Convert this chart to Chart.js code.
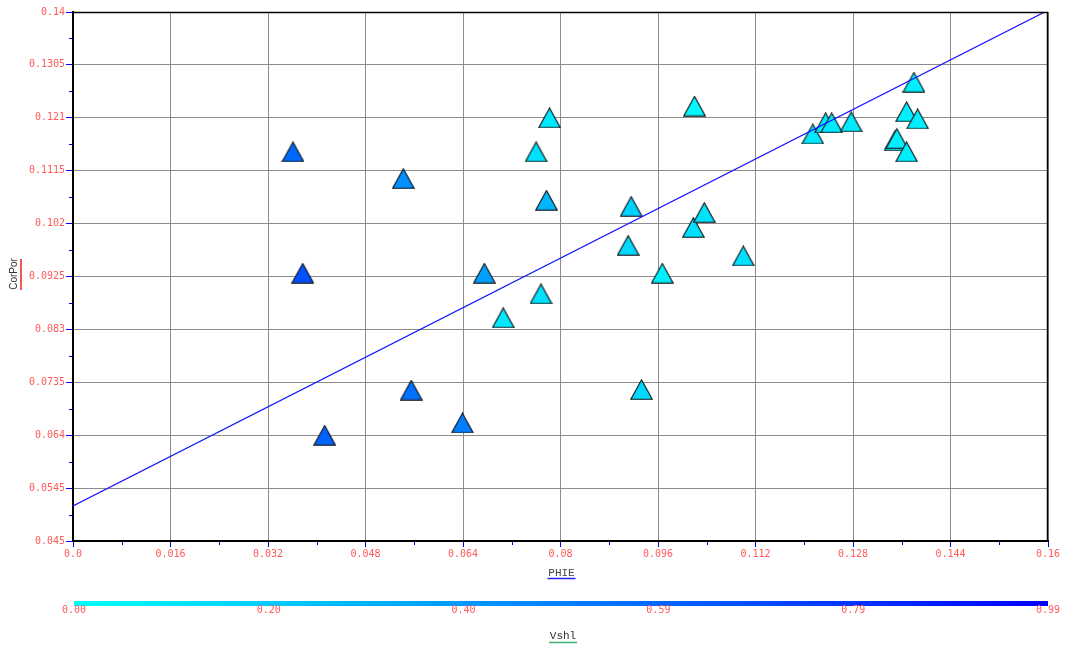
<!DOCTYPE html>
<html>
<head>
<meta charset="utf-8">
<script src="https://cdn.jsdelivr.net/npm/chart.js@4/dist/chart.umd.min.js"></script>
<style>
  html, body { margin: 0; padding: 0; background: #fff; }
  #wrap { width: 1065px; height: 648px; }
</style>
</head>
<body>
<div id="wrap"><canvas id="c" width="1065" height="648"></canvas></div>
<script>
// Crossplot samples: effective porosity vs corrected porosity, coloured by shale volume
const phie = [0.0361, 0.0377, 0.0413, 0.0542, 0.0555, 0.0639, 0.0675, 0.0706, 0.0760, 0.0782,
              0.0777, 0.0768, 0.0916, 0.0911, 0.0933, 0.0967, 0.1020, 0.1018, 0.1036, 0.1100,
              0.1214, 0.1235, 0.1245, 0.1277, 0.1380, 0.1368, 0.1386, 0.1349, 0.1352, 0.1368];
const corPor = [0.1149, 0.0931, 0.0640, 0.1101, 0.0721, 0.0662, 0.0931, 0.0851, 0.1149, 0.1210,
                0.1062, 0.0894, 0.1051, 0.0981, 0.0722, 0.0931, 0.1231, 0.1013, 0.1040, 0.0962,
                0.1181, 0.1201, 0.1201, 0.1203, 0.1274, 0.1221, 0.1208, 0.1169, 0.1173, 0.1149];
const vshl = [0.59, 0.68, 0.61, 0.43, 0.55, 0.50, 0.37, 0.09, 0.12, 0.08,
              0.28, 0.12, 0.18, 0.15, 0.15, 0.06, 0.02, 0.12, 0.12, 0.12,
              0.08, 0.08, 0.08, 0.08, 0.06, 0.06, 0.06, 0.06, 0.06, 0.06];

// Least-squares trend line end points
const fitX = [0.0, 0.16];
const fitY = [0.0513, 0.1403];

// Axis ticks
const xTicks = [0, 0.016, 0.032, 0.048, 0.064, 0.08, 0.096, 0.112, 0.128, 0.144, 0.16];
const xTickLabels = ['0.0', '0.016', '0.032', '0.048', '0.064', '0.08', '0.096', '0.112', '0.128', '0.144', '0.16'];
const yTicks = [0.045, 0.0545, 0.064, 0.0735, 0.083, 0.0925, 0.102, 0.1115, 0.121, 0.1305, 0.14];
const yTickLabels = ['0.045', '0.0545', '0.064', '0.0735', '0.083', '0.0925', '0.102', '0.1115', '0.121', '0.1305', '0.14'];

// Colour scale for Vshl
const vshlMin = 0.0, vshlMax = 0.99;
const colorbarLabels = ['0.00', '0.20', '0.40', '0.59', '0.79', '0.99'];

const LABEL_RED = '#ff5a5a';
const MONO = '"DejaVu Sans Mono", "Liberation Mono", monospace';

function vshlColor(v) {
  const t = Math.max(0, Math.min(1, (v - vshlMin) / (vshlMax - vshlMin)));
  return 'rgb(0,' + Math.round(255 * (1 - t)) + ',255)';
}

// Triangle marker sprite, centred on the data point
function triangleSprite(color) {
  const w = 23, h = 21;
  const cv = document.createElement('canvas');
  cv.width = w; cv.height = h;
  const g = cv.getContext('2d');
  g.beginPath();
  g.moveTo(w / 2, 0.8);
  g.lineTo(w - 0.8, h - 0.8);
  g.lineTo(0.8, h - 0.8);
  g.closePath();
  g.fillStyle = color;
  g.fill();
  g.lineWidth = 1.1;
  g.strokeStyle = '#111';
  g.stroke();
  return cv;
}

const points = phie.map((x, i) => ({ x: x, y: corPor[i] }));
const sprites = vshl.map(v => triangleSprite(vshlColor(v)));
const fitPoints = fitX.map((x, i) => ({ x: x, y: fitY[i] }));

const decorations = {
  id: 'decorations',
  afterDraw(chart) {
    const ctx = chart.ctx;
    const a = chart.chartArea;
    const xs = chart.scales.x, ys = chart.scales.y;
    ctx.save();

    // frame on the top and right
    ctx.strokeStyle = '#000';
    ctx.lineWidth = 1.5;
    ctx.beginPath();
    ctx.moveTo(a.left, a.top + 0.5);
    ctx.lineTo(a.right - 0.5, a.top + 0.5);
    ctx.lineTo(a.right - 0.5, a.bottom);
    ctx.stroke();

    // minor ticks halfway between major ticks
    ctx.strokeStyle = '#0000ff';
    ctx.lineWidth = 1;
    ctx.beginPath();
    for (let i = 0; i < xTicks.length - 1; i++) {
      const px = Math.round(xs.getPixelForValue((xTicks[i] + xTicks[i + 1]) / 2)) + 0.5;
      ctx.moveTo(px, a.bottom + 1);
      ctx.lineTo(px, a.bottom + 4);
    }
    for (let i = 0; i < yTicks.length - 1; i++) {
      const py = Math.round(ys.getPixelForValue((yTicks[i] + yTicks[i + 1]) / 2)) + 0.5;
      ctx.moveTo(a.left - 4, py);
      ctx.lineTo(a.left - 1, py);
    }
    ctx.stroke();

    // x axis title
    ctx.font = '11px "Liberation Mono", monospace';
    ctx.fillStyle = '#444';
    ctx.textAlign = 'center';
    ctx.textBaseline = 'alphabetic';
    const cx = (a.left + a.right) / 2 + 1;
    ctx.fillText('PHIE', cx, 576);
    ctx.strokeStyle = '#2222ee';
    ctx.lineWidth = 1.5;
    ctx.beginPath();
    ctx.moveTo(cx - 14, 578.5);
    ctx.lineTo(cx + 14, 578.5);
    ctx.stroke();

    // y axis title
    ctx.save();
    ctx.translate(17, 274);
    ctx.rotate(-Math.PI / 2);
    ctx.font = '10px "Liberation Sans", sans-serif';
    ctx.fillStyle = '#333';
    ctx.textAlign = 'center';
    ctx.fillText('CorPor', 0, 0);
    ctx.restore();
    ctx.strokeStyle = '#ee2222';
    ctx.lineWidth = 1.5;
    ctx.beginPath();
    ctx.moveTo(21, 259);
    ctx.lineTo(21, 290);
    ctx.stroke();

    // colour bar
    const bx0 = a.left + 1, bx1 = a.right;
    const grad = ctx.createLinearGradient(bx0, 0, bx1, 0);
    grad.addColorStop(0, vshlColor(vshlMin));
    grad.addColorStop(1, vshlColor(vshlMax));
    ctx.fillStyle = grad;
    ctx.fillRect(bx0, 601, bx1 - bx0, 5);

    ctx.font = '10px ' + MONO;
    ctx.fillStyle = LABEL_RED;
    ctx.textAlign = 'center';
    ctx.textBaseline = 'middle';
    colorbarLabels.forEach((lab, i) => {
      const px = bx0 + (bx1 - bx0) * i / (colorbarLabels.length - 1);
      ctx.fillText(lab, px, 610.5);
    });

    // colour bar title
    ctx.font = '11px "Liberation Mono", monospace';
    ctx.fillStyle = '#333';
    ctx.textBaseline = 'alphabetic';
    ctx.fillText('Vshl', 563, 639);
    ctx.strokeStyle = '#3cb371';
    ctx.lineWidth = 1.5;
    ctx.beginPath();
    ctx.moveTo(549, 642.5);
    ctx.lineTo(577, 642.5);
    ctx.stroke();

    ctx.restore();
  }
};

new Chart(document.getElementById('c'), {
  type: 'scatter',
  data: {
    datasets: [
      {
        type: 'line',
        data: fitPoints,
        borderColor: '#1414ff',
        borderWidth: 1.2,
        pointRadius: 0,
        fill: false,
        order: 0
      },
      {
        data: points,
        pointStyle: sprites,
        pointRadius: 11,
        order: 1
      }
    ]
  },
  options: {
    responsive: false,
    animation: false,
    events: [],
    layout: { padding: { left: 0, top: 9, right: 17, bottom: 0 } },
    plugins: { legend: { display: false }, tooltip: { enabled: false } },
    scales: {
      x: {
        type: 'linear',
        min: 0,
        max: 0.16,
        afterBuildTicks: s => { s.ticks = xTicks.map(v => ({ value: v })); },
        afterFit: s => { s.height = 107; },
        ticks: {
          callback: (v, i) => xTickLabels[i],
          color: LABEL_RED,
          font: { family: MONO, size: 10 },
          padding: 1,
          maxRotation: 0,
          autoSkip: false
        },
        grid: { color: '#8c8c8c', lineWidth: 1, tickColor: '#0000ff', tickLength: 6 },
        border: { color: '#000', width: 2 }
      },
      y: {
        type: 'linear',
        min: 0.045,
        max: 0.14,
        afterBuildTicks: s => { s.ticks = yTicks.map(v => ({ value: v })); },
        afterFit: s => { s.width = 73; },
        ticks: {
          callback: (v, i) => yTickLabels[i],
          color: LABEL_RED,
          font: { family: MONO, size: 10 },
          padding: 1,
          autoSkip: false
        },
        grid: { color: '#8c8c8c', lineWidth: 1, tickColor: '#0000ff', tickLength: 7 },
        border: { color: '#000', width: 2 }
      }
    }
  },
  plugins: [decorations]
});
</script>
</body>
</html>
